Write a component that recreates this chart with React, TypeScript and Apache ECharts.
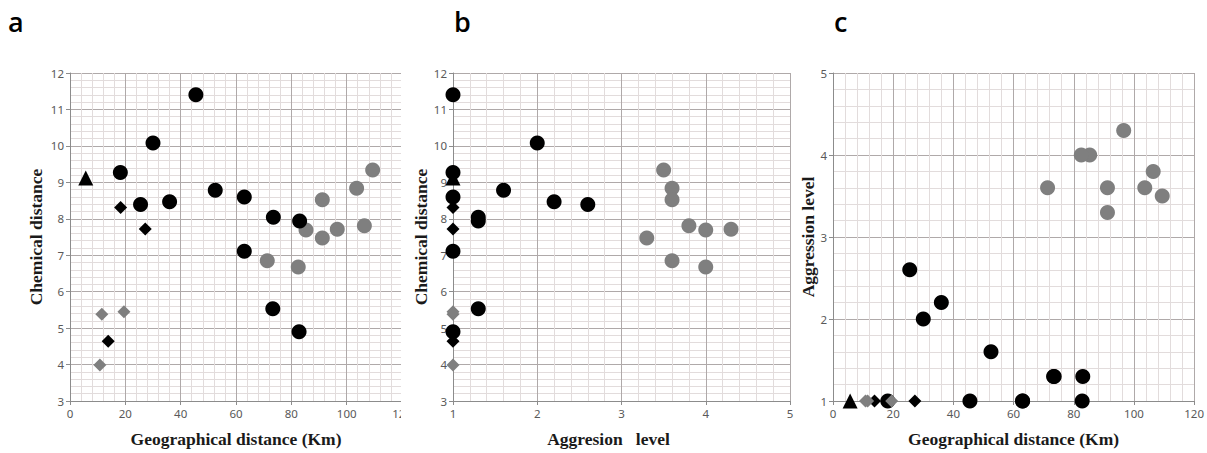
import React, { useEffect, useRef } from "react";
import * as echarts from "echarts";

// Black circles
const geoBlackCircle = [45.5, 30, 18.2, 25.5, 36, 52.5, 63, 73.5, 83, 63, 73.3, 82.8];
const chemBlackCircle = [11.4, 10.08, 9.27, 8.39, 8.47, 8.78, 8.6, 8.04, 7.94, 7.11, 5.53, 4.9];
const aggrBlackCircle = [1.0, 2.0, 1.0, 2.6, 2.2, 1.6, 1.0, 1.3, 1.3, 1.0, 1.3, 1.0];

// Grey circles
const geoGreyCircle = [109.4, 103.6, 91.2, 106.4, 85.3, 91.2, 96.6, 71.3, 82.5];
const chemGreyCircle = [9.34, 8.84, 8.52, 7.81, 7.69, 7.47, 7.71, 6.85, 6.68];
const aggrGreyCircle = [3.5, 3.6, 3.6, 3.8, 4.0, 3.3, 4.3, 3.6, 4.0];

// Black diamonds
const geoBlackDiamond = [18.3, 27.2, 13.8];
const chemBlackDiamond = [8.31, 7.72, 4.64];
const aggrBlackDiamond = [1, 1, 1];

// Grey diamonds
const geoGreyDiamond = [11.5, 19.5, 10.8];
const chemGreyDiamond = [5.38, 5.45, 3.99];
const aggrGreyDiamond = [1, 1, 1];

// Black triangle
const geoTriangle = [5.7];
const chemTriangle = [9.12];
const aggrTriangle = [1];

const panelLabels = ["a", "b", "c"];
const axisTitles = {
  geo: "Geographical distance (Km)",
  chem: "Chemical distance",
  aggrX: "Aggresion\u00a0\u00a0\u00a0level",
  aggrY: "Aggression level",
};

const zip = (a: number[], b: number[]) => a.map((v, i) => [v, b[i]]);

const TICK_FONT = "'Noto Sans', 'Liberation Sans', sans-serif";
const TITLE_FONT = "'Liberation Serif', 'DejaVu Serif', serif";

function valAxis(o: any) {
  return {
    type: "value",
    gridIndex: o.grid,
    min: o.min,
    max: o.max,
    interval: o.interval,
    name: o.name,
    nameLocation: "middle",
    nameGap: o.nameGap,
    nameTextStyle: {
      fontFamily: TITLE_FONT,
      fontWeight: "bold",
      fontSize: 17.5,
      color: "#1a1a1a",
      padding: o.namePadding || 0,
    },
    axisLine: { show: true, onZero: false, lineStyle: { color: "#8c8c8c", width: 1 } },
    axisTick: { show: true, length: 4, lineStyle: { color: "#8c8c8c" } },
    axisLabel: { color: "#595959", fontSize: 11.5, fontFamily: TICK_FONT, margin: 6 },
    splitLine: { show: true, lineStyle: { color: "#afa9a9", width: 1 } },
    minorTick: { show: false, splitNumber: 5 },
    minorSplitLine: { show: true, lineStyle: { color: "#e2dcdc", width: 1 } },
  };
}

export default function App() {
  const ref = useRef<HTMLDivElement>(null);
  useEffect(() => {
    if (!ref.current) return;
    const chart = echarts.init(ref.current, undefined, { renderer: "svg" });

    const panels = [
      { x: "geo", y: "chem" },
      { x: "aggr", y: "chem" },
      { x: "geo", y: "aggr" },
    ];
    const groups = [
      { name: "triangle", geo: geoTriangle, chem: chemTriangle, aggr: aggrTriangle, symbol: "triangle", size: 15, color: "#000000" },
      { name: "greyCircle", geo: geoGreyCircle, chem: chemGreyCircle, aggr: aggrGreyCircle, symbol: "circle", size: 15, color: "#7f7f7f" },
      { name: "blackCircle", geo: geoBlackCircle, chem: chemBlackCircle, aggr: aggrBlackCircle, symbol: "circle", size: 15, color: "#000000" },
      { name: "blackDiamond", geo: geoBlackDiamond, chem: chemBlackDiamond, aggr: aggrBlackDiamond, symbol: "diamond", size: 13, color: "#000000" },
      { name: "greyDiamond", geo: geoGreyDiamond, chem: chemGreyDiamond, aggr: aggrGreyDiamond, symbol: "diamond", size: 13, color: "#7f7f7f" },
    ];

    const series: any[] = [];
    panels.forEach((p, pi) => {
      groups.forEach((g: any) => {
        series.push({
          type: "scatter",
          name: g.name + pi,
          xAxisIndex: pi,
          yAxisIndex: pi,
          symbol: g.symbol,
          symbolSize: g.size,
          itemStyle: { color: g.color, opacity: 1 },
          data: zip(g[p.x], g[p.y]),
          silent: true,
        });
      });
    });

    chart.setOption({
      animation: false,
      backgroundColor: "#ffffff",
      grid: [
        { left: 70, top: 73, width: 332, height: 330 },
        { left: 453, top: 73, width: 337, height: 330 },
        { left: 833, top: 73, width: 362, height: 330 },
      ],
      xAxis: [
        valAxis({ grid: 0, min: 0, max: 120, interval: 20, name: axisTitles.geo, nameGap: 29 }),
        valAxis({ grid: 1, min: 1, max: 5, interval: 1, name: axisTitles.aggrX, nameGap: 29, namePadding: [0, 26, 0, 0] }),
        valAxis({ grid: 2, min: 0, max: 120, interval: 20, name: axisTitles.geo, nameGap: 29 }),
      ],
      yAxis: [
        valAxis({ grid: 0, min: 3, max: 12, interval: 1, name: axisTitles.chem, nameGap: 25 }),
        valAxis({ grid: 1, min: 3, max: 12, interval: 1, name: axisTitles.chem, nameGap: 23 }),
        valAxis({ grid: 2, min: 1, max: 5, interval: 1, name: axisTitles.aggrY, nameGap: 15 }),
      ],
      series,
      graphic: [
        { type: "rect", z: 100, shape: { x: 401, y: 55, width: 11, height: 370 }, style: { fill: "#ffffff" } },
        ...panelLabels.map((t, i) => ({
          type: "text",
          z: 101,
          x: [8, 454, 834][i],
          y: 8,
          style: {
            text: t,
            font: "600 27px 'Open Sans', 'Noto Sans', sans-serif",
            fill: "#000000",
          },
        })),
      ],
    });
    return () => chart.dispose();
  }, []);
  return (
    <div
      ref={ref}
      style={{ position: "fixed", left: 0, top: 0, width: 1207, height: 453, background: "#fff" }}
    />
  );
}
